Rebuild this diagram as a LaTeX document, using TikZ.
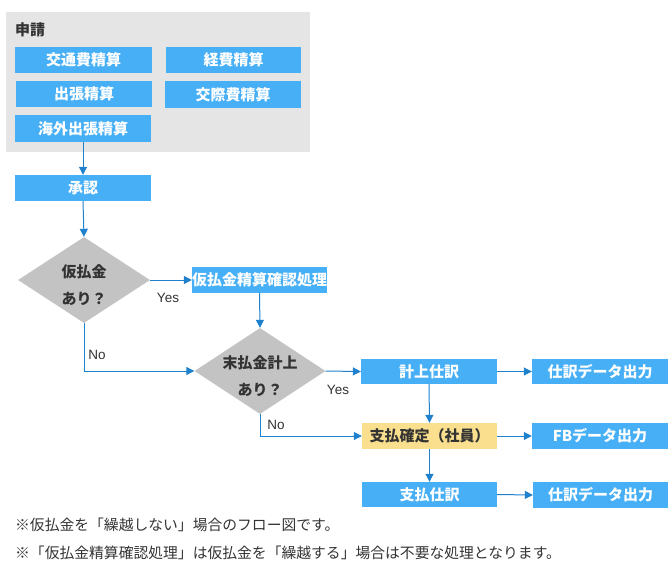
\documentclass[tikz,border=0pt]{standalone}
\usepackage{fontspec}
\setmainfont{Liberation Sans}
\newfontfamily\jp{Noto Sans CJK JP}
\usetikzlibrary{shapes.geometric,arrows.meta}
\definecolor{boxblue}{HTML}{47AFF6}
\definecolor{lineblue}{HTML}{1F80CC}
\definecolor{panelgray}{HTML}{E5E5E5}
\definecolor{diagray}{HTML}{C3C3C3}
\definecolor{payyellow}{HTML}{FAE08E}
\definecolor{txt}{HTML}{333333}
\tikzset{
  bbox/.style={rectangle, fill=boxblue, text=white, inner sep=0pt,
    minimum width=136pt, minimum height=26pt,
    font=\jp\bfseries\fontsize{15}{17}\selectfont},
  ybox/.style={bbox, fill=payyellow, text=txt},
  dia/.style={diamond, fill=diagray, inner sep=0pt, minimum width=132pt, minimum height=86pt},
  diatext/.style={align=center, text=txt, inner sep=0pt,
    font=\jp\bfseries\fontsize{15}{27}\selectfont},
  conn/.style={draw=lineblue, line width=1pt, -{Triangle[length=8pt,width=8pt]}},
  lbl/.style={text=txt, font=\fontsize{13.5}{15}\selectfont, inner sep=0pt},
  note/.style={text=txt, anchor=west, inner sep=0pt, font=\jp\fontsize{14.8}{17}\selectfont}
}
\begin{document}
\begin{tikzpicture}[x=1pt,y=-1pt]
\useasboundingbox (0,0) rectangle (672,579);
% panel
\fill[panelgray] (6,12) rectangle (310,152);
\node[anchor=west, inner sep=0pt, text=txt, font=\jp\bfseries\fontsize{15}{17}\selectfont] (shinsei) at (15,30) {申請};
\node[bbox, minimum width=137pt] (koutsu) at (83.5,60) {交通費精算};
\node[bbox, minimum width=135pt] (keihi) at (233.5,60) {経費精算};
\node[bbox] (shutcho) at (84,94) {出張精算};
\node[bbox, minimum height=27pt] (kousai) at (233,94.5) {交際費精算};
\node[bbox, minimum height=27pt] (kaigai) at (83,128.5) {海外出張精算};
% flow
\node[bbox] (shonin) at (83,188) {承認};
\node[dia] (d1) at (84,280) {};
\node[diatext] (d1t) at (84,285) {仮払金\\あり？};
\node[bbox, minimum width=135pt] (kari) at (259.5,280) {仮払金精算確認処理};
\node[dia, minimum width=131pt] (d2) at (260,371) {};
\node[diatext] (d2t) at (260,376.5) {末払金計上\\あり？};
\node[bbox, minimum height=25pt] (keijo) at (429,371.5) {計上仕訳};
\node[bbox, minimum height=25pt] (data1) at (600,371.5) {仕訳データ出力};
\node[ybox, minimum width=135pt] (pay) at (429.5,436) {支払確定（社員）};
\node[bbox] (fb) at (600,436) {FBデータ出力};
\node[bbox, minimum width=135pt, minimum height=25pt] (shiwake) at (429.5,494.5) {支払仕訳};
\node[bbox, minimum width=135pt] (data2) at (600.5,495) {仕訳データ出力};
% labels
\node[lbl] (yes1) at (168,298) {Yes};
\node[lbl] (no1) at (97,355) {No};
\node[lbl] (yes2) at (338,390) {Yes};
\node[lbl] (no2) at (276,425) {No};
% connectors
\draw[conn] (kaigai.south) -- (shonin.north);
\draw[conn] (shonin.south) -- (d1.north);
\draw[conn] (d1.east) -- (kari.west);
\draw[conn] (d1.south) |- (d2.west);
\draw[conn] (kari.south) -- (d2.north);
\draw[conn] (d2.east) -- (keijo.west);
\draw[conn] (d2.south) |- (pay.west);
\draw[conn] (keijo.east) -- (data1.west);
\draw[conn] (keijo.south) -- (pay.north);
\draw[conn] (pay.east) -- (fb.west);
\draw[conn] (pay.south) -- (shiwake.north);
\draw[conn] (shiwake.east) -- (data2.west);
% notes
\node[note] (n1) at (15,525) {※仮払金を「繰越しない」場合のフロー図です。};
\node[note] (n2) at (15,553) {※「仮払金精算確認処理」は仮払金を「繰越する」場合は不要な処理となります。};
\end{tikzpicture}
\end{document}
